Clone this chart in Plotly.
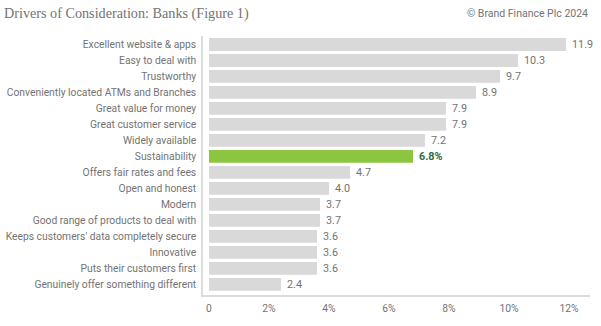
import plotly.graph_objects as go

# Drivers of consideration for banks, share of respondents (%)
drivers = [
    "Excellent website & apps",
    "Easy to deal with",
    "Trustworthy",
    "Conveniently located ATMs and Branches",
    "Great value for money",
    "Great customer service",
    "Widely available",
    "Sustainability",
    "Offers fair rates and fees",
    "Open and honest",
    "Modern",
    "Good range of products to deal with",
    "Keeps customers' data completely secure",
    "Innovative",
    "Puts their customers first",
    "Genuinely offer something different",
]
shares = [11.9, 10.3, 9.7, 8.9, 7.9, 7.9, 7.2, 6.8, 4.7, 4.0, 3.7, 3.7, 3.6, 3.6, 3.6, 2.4]
highlight = "Sustainability"

x_ticks = [0, 2, 4, 6, 8, 10, 12]
x_tick_labels = ["0", "2%", "4%", "6%", "8%", "10%", "12%"]

GREY_BAR = "#d9d9d9"
GREEN_BAR = "#8cc540"
TEXT_GREY = "#737373"
DARK_GREEN = "#2f6b45"
FONT = "Roboto, Arial, sans-serif"
LABEL_SIZE = 10.3

colors = [GREEN_BAR if d == highlight else GREY_BAR for d in drivers]

fig = go.Figure(
    go.Bar(
        x=shares,
        y=drivers,
        orientation="h",
        marker=dict(color=colors, line=dict(width=0)),
        hoverinfo="skip",
    )
)

# value labels just past the end of each bar
for d, v in zip(drivers, shares):
    is_hl = d == highlight
    fig.add_annotation(
        x=v,
        y=d,
        xref="x",
        yref="y",
        text=(f"<b>{v:.1f}%</b>" if is_hl else f"{v:.1f}"),
        showarrow=False,
        xanchor="left",
        yanchor="middle",
        xshift=4,
        font=dict(family=FONT, size=10.8, color=DARK_GREEN if is_hl else TEXT_GREY),
    )

fig.add_annotation(
    x=0, y=1, xref="paper", yref="paper",
    xshift=-201, yshift=23,
    text="Drivers of Consideration: Banks (Figure 1)",
    showarrow=False, xanchor="left", yanchor="middle",
    font=dict(family="'Liberation Serif', Georgia, serif", size=14.2, color=TEXT_GREY),
)
fig.add_annotation(
    x=1, y=1, xref="paper", yref="paper",
    xshift=0, yshift=23,
    text="© Brand Finance Plc 2024",
    showarrow=False, xanchor="right", yanchor="middle",
    font=dict(family=FONT, size=10.5, color=TEXT_GREY),
)

fig.update_layout(
    width=601,
    height=326,
    margin=dict(l=203, r=11, t=36, b=31),
    paper_bgcolor="white",
    plot_bgcolor="white",
    bargap=0.2,
    showlegend=False,
    font=dict(family=FONT, size=11, color=TEXT_GREY),
)
fig.update_xaxes(
    range=[-0.2, 12.7],
    tickvals=x_ticks,
    ticktext=x_tick_labels,
    showgrid=False,
    zeroline=False,
    showline=True,
    linecolor="#dcdcdc",
    linewidth=1.5,
    ticks="outside",
    ticklen=3,
    tickcolor="rgba(0,0,0,0)",
    automargin=False,
    tickfont=dict(family=FONT, size=LABEL_SIZE, color=TEXT_GREY),
)
fig.update_yaxes(
    range=[15.66, -0.53],
    showgrid=False,
    zeroline=False,
    showline=True,
    linecolor="#dcdcdc",
    linewidth=1.5,
    ticks="outside",
    ticklen=3,
    tickcolor="rgba(0,0,0,0)",
    automargin=False,
    tickfont=dict(family=FONT, size=LABEL_SIZE, color=TEXT_GREY),
)

fig.write_html("out.html")
